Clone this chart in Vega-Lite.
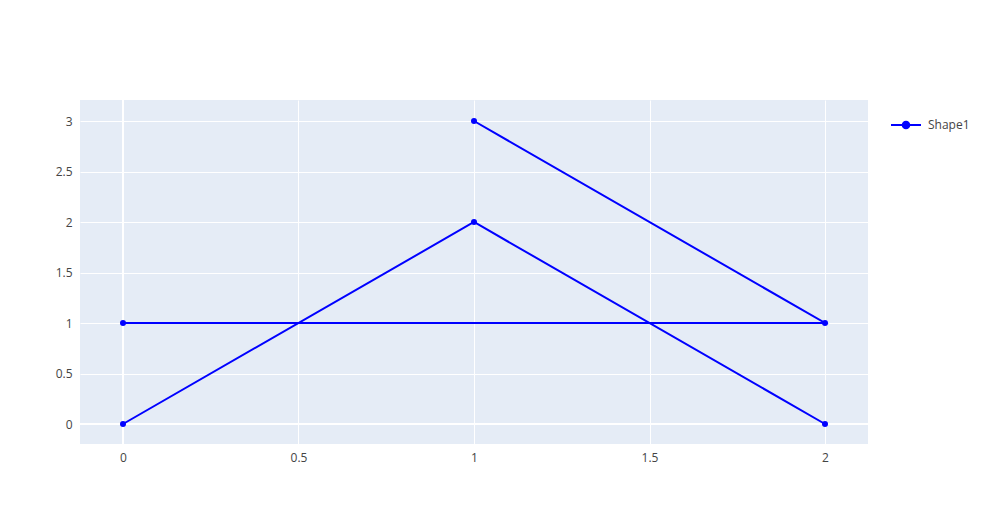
{
  "$schema": "https://vega.github.io/schema/vega-lite/v6.json",
  "width": 788,
  "height": 344,
  "autosize": {"type": "none"},
  "padding": {"left": 80, "top": 100, "right": 115, "bottom": 81},
  "background": "white",
  "config": {
    "font": "Open Sans",
    "view": {"fill": "#E5ECF6", "stroke": null},
    "axis": {
      "domain": false,
      "ticks": false,
      "gridColor": "white",
      "gridWidth": 1,
      "labelColor": "#444444",
      "labelFont": "Open Sans",
      "labelFontSize": 12,
      "title": null
    }
  },
  "data": {
    "values": [
      {"name": "Shape1", "seg": "a", "ord": 0, "x": 0, "y": 0},
      {"name": "Shape1", "seg": "a", "ord": 1, "x": 1, "y": 2},
      {"name": "Shape1", "seg": "a", "ord": 2, "x": 2, "y": 0},
      {"name": "Shape1", "seg": "b", "ord": 3, "x": 0, "y": 1},
      {"name": "Shape1", "seg": "b", "ord": 4, "x": 2, "y": 1},
      {"name": "Shape1", "seg": "b", "ord": 5, "x": 1, "y": 3}
    ]
  },
  "layer": [
    {
      "mark": {"type": "rule", "color": "white", "strokeWidth": 2},
      "data": {"values": [{"v": 0}]},
      "encoding": {"y": {"field": "v", "type": "quantitative", "scale": {"domain": [-0.198, 3.208], "nice": false, "zero": false}}}
    },
    {
      "mark": {"type": "rule", "color": "white", "strokeWidth": 2},
      "data": {"values": [{"v": 0}]},
      "encoding": {"x": {"field": "v", "type": "quantitative", "scale": {"domain": [-0.1225, 2.1225], "nice": false, "zero": false}}}
    },
    {
      "mark": {"type": "line", "strokeWidth": 2, "point": {"filled": true, "size": 36, "opacity": 1}},
      "encoding": {
        "x": {
          "field": "x", "type": "quantitative",
          "scale": {"domain": [-0.1225, 2.1225], "nice": false, "zero": false},
          "axis": {"values": [0, 0.5, 1, 1.5, 2], "labelPadding": 8, "labelExpr": "datum.value + ''"}
        },
        "y": {
          "field": "y", "type": "quantitative",
          "scale": {"domain": [-0.198, 3.208], "nice": false, "zero": false},
          "axis": {"values": [0, 0.5, 1, 1.5, 2, 2.5, 3], "labelPadding": 8, "labelExpr": "datum.value + ''"}
        },
        "detail": {"field": "seg"},
        "order": {"field": "ord"},
        "color": {
          "field": "name", "type": "nominal",
          "scale": {"range": ["#0000ff"]},
          "legend": {
            "title": null,
            "orient": "none",
            "legendX": 810,
            "legendY": 9,
            "symbolType": "M-1,0H1M-0.22,0A0.22,0.22,0,1,1,0.22,0A0.22,0.22,0,1,1,-0.22,0Z",
            "symbolSize": 900,
            "symbolStrokeWidth": 2,
            "symbolFillColor": "#0000ff",
            "symbolStrokeColor": "#0000ff",
            "labelFont": "Open Sans",
            "labelFontSize": 12,
            "labelColor": "#444444",
            "labelOffset": 6
          }
        }
      }
    }
  ]
}
